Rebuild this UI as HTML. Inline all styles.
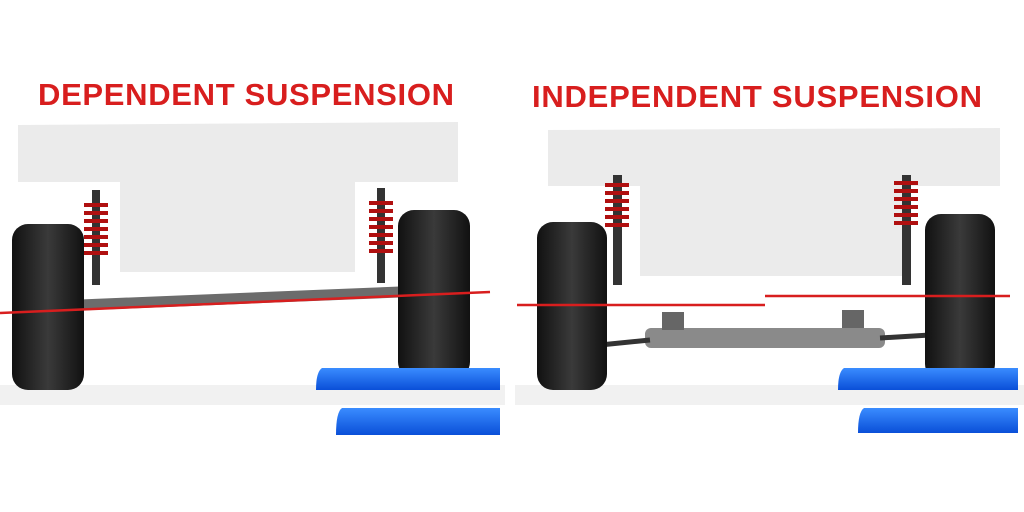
<!DOCTYPE html>
<html><head><style>
html,body{margin:0;padding:0;background:#fff;width:1024px;height:512px;overflow:hidden}
</style></head><body>
<svg width="1024" height="512" viewBox="0 0 1024 512" xmlns="http://www.w3.org/2000/svg">
<defs>
<linearGradient id="tire" x1="0" x2="1">
<stop offset="0" stop-color="#111"/><stop offset="0.5" stop-color="#3a3a3a"/><stop offset="1" stop-color="#111"/>
</linearGradient>
<linearGradient id="blue" x1="0" y1="0" x2="0" y2="1">
<stop offset="0" stop-color="#3a8cff"/><stop offset="1" stop-color="#0a4fd8"/>
</linearGradient>
</defs>
<rect width="1024" height="512" fill="#fff"/>
<!-- floor shading -->
<rect x="0" y="385" width="505" height="20" fill="#f1f1f1"/>
<rect x="515" y="385" width="509" height="20" fill="#f1f1f1"/>

<!-- Titles -->
<text x="246" y="105" text-anchor="middle" font-family="Liberation Sans, sans-serif" font-weight="bold" font-size="31" fill="#d81e1e" textLength="416">DEPENDENT SUSPENSION</text>
<text x="757" y="107" text-anchor="middle" font-family="Liberation Sans, sans-serif" font-weight="bold" font-size="31" fill="#d81e1e" textLength="450">INDEPENDENT SUSPENSION</text>

<!-- LEFT body -->
<path d="M18 125 L458 122 L458 182 L355 182 L355 272 L120 272 L120 182 L18 182 Z" fill="#ebebeb"/>
<!-- left shocks -->
<rect x="92" y="190" width="8" height="95" fill="#333"/>
<path d="M84 205 h24 M84 213 h24 M84 221 h24 M84 229 h24 M84 237 h24 M84 245 h24 M84 253 h24" stroke="#b01010" stroke-width="4"/>
<rect x="377" y="188" width="8" height="95" fill="#333"/>
<path d="M369 203 h24 M369 211 h24 M369 219 h24 M369 227 h24 M369 235 h24 M369 243 h24 M369 251 h24" stroke="#b01010" stroke-width="4"/>
<!-- axle -->
<path d="M80 305 L400 292" stroke="#6c6c6c" stroke-width="11"/>
<!-- wheels -->
<rect x="12" y="224" width="72" height="166" rx="16" fill="url(#tire)"/>
<rect x="398" y="210" width="72" height="168" rx="16" fill="url(#tire)"/>
<!-- red line -->
<path d="M0 313 L490 292" stroke="#d81e1e" stroke-width="2.5"/>
<!-- blue ramps -->
<path d="M322 368 L500 368 L500 390 L316 390 Q316 372 322 368Z" fill="url(#blue)"/>
<path d="M342 408 L500 408 L500 435 L336 435 Q336 412 342 408Z" fill="url(#blue)"/>

<!-- RIGHT body -->
<path d="M548 130 L1000 128 L1000 186 L905 186 L905 276 L640 276 L640 186 L548 186 Z" fill="#ebebeb"/>
<rect x="613" y="175" width="9" height="110" fill="#333"/>
<path d="M605 185 h24 M605 193 h24 M605 201 h24 M605 209 h24 M605 217 h24 M605 225 h24" stroke="#b01010" stroke-width="4"/>
<rect x="902" y="175" width="9" height="110" fill="#333"/>
<path d="M894 183 h24 M894 191 h24 M894 199 h24 M894 207 h24 M894 215 h24 M894 223 h24" stroke="#b01010" stroke-width="4"/>
<!-- subframe -->
<rect x="645" y="328" width="240" height="20" rx="6" fill="#8a8a8a"/>
<path d="M600 345 L650 340 M880 338 L930 335" stroke="#333" stroke-width="5"/>
<rect x="662" y="312" width="22" height="18" fill="#666"/>
<rect x="842" y="310" width="22" height="18" fill="#666"/>
<rect x="537" y="222" width="70" height="168" rx="16" fill="url(#tire)"/>
<rect x="925" y="214" width="70" height="166" rx="16" fill="url(#tire)"/>
<path d="M517 305 L765 305" stroke="#d81e1e" stroke-width="2.5"/>
<path d="M765 296 L1010 296" stroke="#d81e1e" stroke-width="2.5"/>
<path d="M844 368 L1018 368 L1018 390 L838 390 Q838 372 844 368Z" fill="url(#blue)"/>
<path d="M864 408 L1018 408 L1018 433 L858 433 Q858 412 864 408Z" fill="url(#blue)"/>
</svg>
</body></html>
